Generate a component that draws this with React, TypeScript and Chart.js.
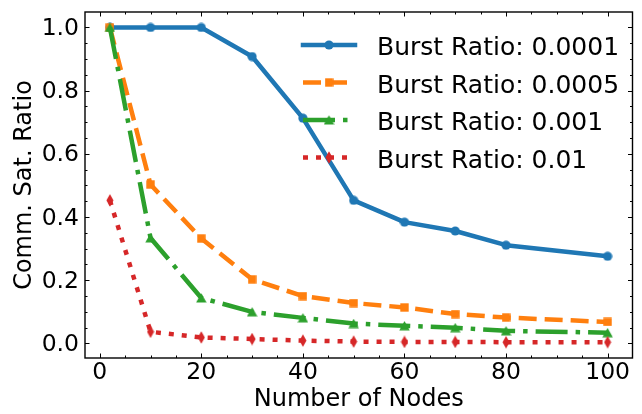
import React, { useEffect, useRef } from "react";
import { Chart, registerables } from "chart.js";

Chart.register(...registerables);

// Number of nodes on the x axis
const nodes = [2, 10, 20, 30, 40, 50, 60, 70, 80, 100];

// Communication saturation ratio per burst ratio
const ratio0001 = [1.0, 1.0, 1.0, 0.908, 0.713, 0.453, 0.384, 0.356, 0.311, 0.276];
const ratio0005 = [1.0, 0.503, 0.332, 0.203, 0.15, 0.128, 0.114, 0.093, 0.082, 0.068];
const ratio001 = [1.0, 0.334, 0.144, 0.1, 0.081, 0.063, 0.056, 0.05, 0.04, 0.034];
const ratio01 = [0.453, 0.037, 0.019, 0.014, 0.009, 0.006, 0.005, 0.005, 0.004, 0.004];

const seriesLabels = [
  "Burst Ratio: 0.0001",
  "Burst Ratio: 0.0005",
  "Burst Ratio: 0.001",
  "Burst Ratio: 0.01",
];

const xTicks = [0, 20, 40, 60, 80, 100];
const yTicks = [0, 0.2, 0.4, 0.6, 0.8, 1.0];

const FONT = "'DejaVu Sans', 'Liberation Sans', sans-serif";

type Shape = "circle" | "square" | "triangle" | "thinDiamond";

function makeMarker(shape: Shape, color: string): HTMLCanvasElement {
  const c = document.createElement("canvas");
  const dims: Record<Shape, [number, number]> = {
    circle: [10, 10],
    square: [9, 9],
    triangle: [11, 10],
    thinDiamond: [8, 13],
  };
  const [w, h] = dims[shape];
  c.width = w;
  c.height = h;
  const g = c.getContext("2d")!;
  g.fillStyle = color;
  g.beginPath();
  if (shape === "circle") {
    g.arc(w / 2, h / 2, 4.6, 0, Math.PI * 2);
  } else if (shape === "square") {
    g.rect(0.3, 0.3, w - 0.6, h - 0.6);
  } else if (shape === "triangle") {
    g.moveTo(w / 2, 0.3);
    g.lineTo(w - 0.3, h - 0.5);
    g.lineTo(0.3, h - 0.5);
    g.closePath();
  } else {
    g.moveTo(w / 2, 0.3);
    g.lineTo(w - 0.5, h / 2);
    g.lineTo(w / 2, h - 0.3);
    g.lineTo(0.5, h / 2);
    g.closePath();
  }
  g.fill();
  return c;
}

type SeriesStyle = {
  color: string;
  dash: number[];
  cap: CanvasLineCap;
  shape: Shape;
};

const styles: SeriesStyle[] = [
  { color: "#1f77b4", dash: [], cap: "square", shape: "circle" },
  { color: "#ff7f0e", dash: [18, 8], cap: "butt", shape: "square" },
  { color: "#2ca02c", dash: [32, 8, 4.5, 8], cap: "butt", shape: "triangle" },
  { color: "#d62728", dash: [5, 8], cap: "butt", shape: "thinDiamond" },
];

const LINE_W = 4.5;

export default function App() {
  const canvasRef = useRef<HTMLCanvasElement | null>(null);

  useEffect(() => {
    const canvas = canvasRef.current;
    if (!canvas) return;

    const markers = styles.map((s) => makeMarker(s.shape, s.color));
    const allSeries = [ratio0001, ratio0005, ratio001, ratio01];

    // Axes box with inward major/minor ticks on all four sides
    const framePlugin = {
      id: "frame",
      afterDraw(chart: any) {
        const { ctx, chartArea: a, scales } = chart;
        const sx = scales.x;
        const sy = scales.y;
        ctx.save();
        ctx.strokeStyle = "#000";
        ctx.lineWidth = 1;
        ctx.setLineDash([]);
        for (let v = 0; v <= 100; v += 5) {
          const px = Math.round(sx.getPixelForValue(v)) + 0.5;
          const len = v % 20 === 0 ? 4.5 : 2.5;
          ctx.beginPath();
          ctx.moveTo(px, a.bottom);
          ctx.lineTo(px, a.bottom - len);
          ctx.moveTo(px, a.top);
          ctx.lineTo(px, a.top + len);
          ctx.stroke();
        }
        for (let i = 0; i <= 20; i++) {
          const v = i * 0.05;
          const py = Math.round(sy.getPixelForValue(v)) + 0.5;
          const len = i % 4 === 0 ? 4.5 : 2.5;
          ctx.beginPath();
          ctx.moveTo(a.left, py);
          ctx.lineTo(a.left + len, py);
          ctx.moveTo(a.right, py);
          ctx.lineTo(a.right - len, py);
          ctx.stroke();
        }
        ctx.lineWidth = 1.4;
        ctx.strokeRect(a.left, a.top, a.right - a.left, a.bottom - a.top);
        ctx.restore();
      },
    };

    // Legend in the upper right: line sample with marker, then label
    const legendPlugin = {
      id: "seriesLegend",
      afterDatasetsDraw(chart: any) {
        const { ctx } = chart;
        const x0 = 303;
        const x1 = 355;
        const rows = [45, 82.5, 120, 157.5];
        ctx.save();
        styles.forEach((s, i) => {
          const y = rows[i];
          ctx.beginPath();
          ctx.strokeStyle = s.color;
          ctx.lineWidth = LINE_W;
          ctx.lineCap = s.cap;
          ctx.setLineDash(s.dash);
          ctx.moveTo(x0, y);
          ctx.lineTo(x1, y);
          ctx.stroke();
          const m = markers[i];
          ctx.drawImage(m, (x0 + x1) / 2 - m.width / 2, y - m.height / 2);
          ctx.setLineDash([]);
          ctx.fillStyle = "#000";
          ctx.font = `25px ${FONT}`;
          ctx.textBaseline = "alphabetic";
          ctx.textAlign = "left";
          ctx.fillText(seriesLabels[i], 377, y + 10);
        });
        ctx.restore();
      },
    };

    const datasets = allSeries.map((vals, i) => {
      const s = styles[i];
      return {
        label: seriesLabels[i],
        data: nodes.map((n, j) => ({ x: n, y: vals[j] })),
        borderColor: s.color,
        backgroundColor: s.color,
        borderWidth: LINE_W,
        borderDash: s.dash,
        borderCapStyle: s.cap,
        borderJoinStyle: "round" as CanvasLineJoin,
        pointStyle: markers[i],
        pointRadius: 5,
        pointHoverRadius: 5,
        tension: 0,
        fill: false,
        order: 3 - i,
      };
    });

    const chart = new Chart(canvas, {
      type: "line",
      data: { datasets },
      options: {
        animation: false,
        responsive: false,
        devicePixelRatio: 1,
        events: [],
        layout: { padding: { top: 12, right: 8, left: 0, bottom: 0 } },
        plugins: {
          legend: { display: false },
          tooltip: { enabled: false },
        },
        scales: {
          x: {
            type: "linear",
            min: -2.9,
            max: 104.9,
            grid: { display: false, drawTicks: false },
            border: { display: false },
            afterBuildTicks: (scale: any) => {
              scale.ticks = xTicks.map((v) => ({ value: v }));
            },
            afterFit: (scale: any) => {
              scale.height = 56;
              scale.paddingLeft = 0;
              scale.paddingRight = 0;
            },
            ticks: {
              color: "#000",
              font: { family: FONT, size: 23.5 },
              padding: 1,
              maxRotation: 0,
              callback: (v: any) => String(v),
            },
            title: {
              display: true,
              text: "Number of Nodes",
              color: "#000",
              font: { family: FONT, size: 24, lineHeight: 1.2 },
              padding: { top: 0, bottom: 0 },
            },
          },
          y: {
            type: "linear",
            min: -0.046,
            max: 1.049,
            grid: { display: false, drawTicks: false },
            border: { display: false },
            afterBuildTicks: (scale: any) => {
              scale.ticks = yTicks.map((v) => ({ value: v }));
            },
            afterFit: (scale: any) => {
              scale.width = 85;
              scale.paddingTop = 0;
              scale.paddingBottom = 0;
            },
            ticks: {
              color: "#000",
              font: { family: FONT, size: 23.5 },
              padding: 6,
              labelOffset: 1.5,
              callback: (v: any) => Number(v).toFixed(1),
            },
            title: {
              display: true,
              text: "Comm. Sat. Ratio",
              color: "#000",
              font: { family: FONT, size: 24, lineHeight: 1.2 },
              padding: { top: 10, bottom: 0 },
            },
          },
        },
      },
      plugins: [legendPlugin, framePlugin],
    });

    return () => chart.destroy();
  }, []);

  return (
    <div
      style={{
        position: "fixed",
        left: 0,
        top: 0,
        width: 642,
        height: 414,
        background: "#fff",
      }}
    >
      <canvas ref={canvasRef} width={642} height={414} />
    </div>
  );
}
